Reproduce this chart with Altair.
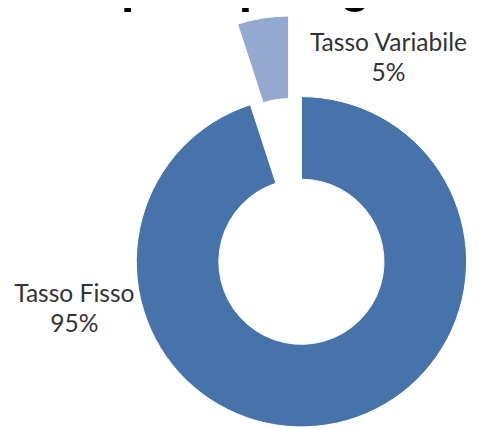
import altair as alt
import pandas as pd

# ---- data ----
categories = ["Tasso Fisso", "Tasso Variabile"]
shares = [95, 5]
share_labels = ["95%", "5%"]
title_fragment = "per tipologia"

# ---- layout / style ----
CX, CY = 298.5, 254.5      # donut centre (svg coords)
R_OUT, R_IN = 168, 84
EXPLODE_DIST = 83          # exploded slice offset
COLORS = ["#4673A9", "#94A9D0"]
FONT = "Lato"

df = pd.DataFrame({"cat": categories, "share": shares, "pct": share_labels})

base = alt.Chart(df).transform_window(
    cum="sum(share)", frame=[None, 0]
).transform_joinaggregate(
    total="sum(share)"
).transform_calculate(
    t0="(datum.cum - datum.share) / datum.total * 2 * PI",
    t1="datum.cum / datum.total * 2 * PI",
).transform_calculate(
    mid="(datum.t0 + datum.t1) / 2",
    ex=f"datum.cat == 'Tasso Variabile' ? {EXPLODE_DIST} : 0",
).transform_calculate(
    px=f"{CX} + datum.ex * sin(datum.mid)",
    py=f"{CY} - datum.ex * cos(datum.mid)",
    lx="datum.cat == 'Tasso Fisso' ? 67.5 : 387",
    ly="datum.cat == 'Tasso Fisso' ? 295.3 : 40.3",
    lab="[datum.cat, datum.pct]",
)

arcs = base.mark_arc(
    outerRadius=R_OUT, innerRadius=R_IN, stroke="white", strokeWidth=1
).encode(
    x=alt.X("px:Q", scale=None, axis=None),
    y=alt.Y("py:Q", scale=None, axis=None),
    theta=alt.Theta("t0:Q", scale=None, stack=None),
    theta2="t1:Q",
    color=alt.Color("cat:N", scale=alt.Scale(domain=categories, range=COLORS), legend=None),
)

labels = base.mark_text(
    align="center", baseline="alphabetic", font=FONT, fontSize=25,
    lineHeight=30.5, color="#333333",
).encode(
    x=alt.X("lx:Q", scale=None, axis=None),
    y=alt.Y("ly:Q", scale=None, axis=None),
    text="lab:N",
)

title = alt.Chart(pd.DataFrame({"t": [title_fragment]})).mark_text(
    align="left", baseline="alphabetic", font="Liberation Sans", fontSize=49,
    fontWeight="bold", color="black",
).encode(
    x=alt.value(115), y=alt.value(-10), text="t:N"
)

chart = alt.layer(arcs, labels, title).properties(
    width=469, height=421,
    autosize=alt.AutoSizeParams(type="none"),
    padding=0,
    background="white",
).configure_view(stroke=None)

chart.save("out.html", embed_options={"renderer": "svg", "actions": False})
